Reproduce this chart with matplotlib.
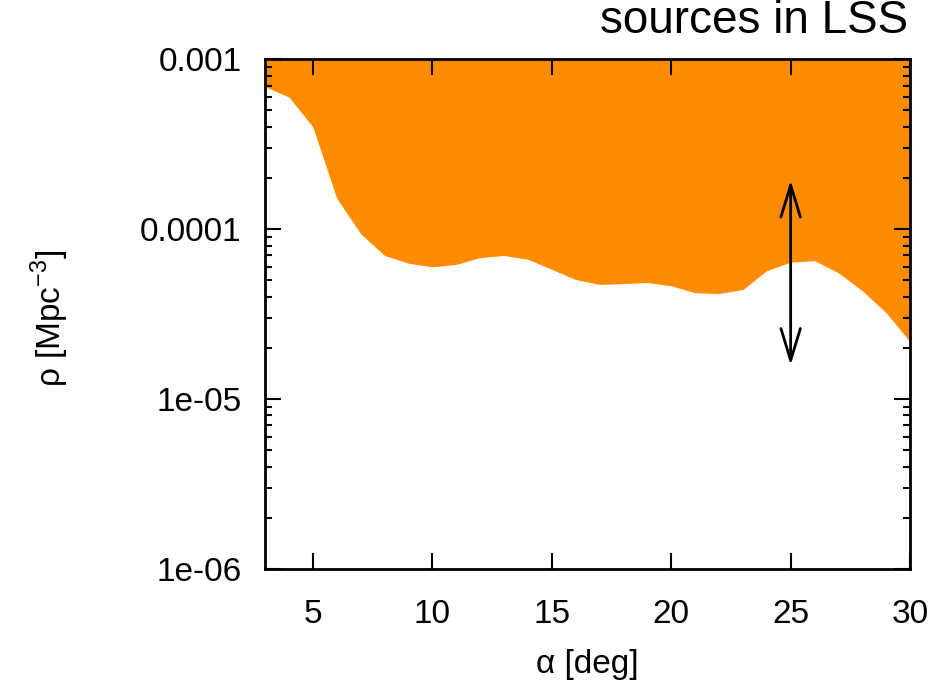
import numpy as np
import matplotlib.pyplot as plt
from matplotlib.ticker import LogLocator, NullFormatter, FixedLocator

plt.rcParams['font.family'] = ['Liberation Sans', 'DejaVu Sans']
plt.rcParams['mathtext.fontset'] = 'custom'
plt.rcParams['mathtext.rm'] = 'Liberation Sans'

# angle alpha [deg] and lower bound of density rho [Mpc^-3]
alpha = [3, 4, 5, 6, 7, 8, 9, 10, 11, 12, 13, 14, 15, 16, 17, 18, 19, 20,
         21, 22, 23, 24, 25, 26, 27, 28, 29, 30]
rho = [6.9e-4, 6.0e-4, 4.0e-4, 1.52e-4, 9.4e-5, 7.0e-5, 6.3e-5, 6.0e-5,
       6.2e-5, 6.8e-5, 7.0e-5, 6.65e-5, 5.8e-5, 5.05e-5, 4.73e-5, 4.78e-5,
       4.85e-5, 4.64e-5, 4.22e-5, 4.18e-5, 4.41e-5, 5.7e-5, 6.4e-5, 6.52e-5,
       5.53e-5, 4.34e-5, 3.22e-5, 2.17e-5]
arrow_x = 25
arrow_lo, arrow_hi = 1.58e-5, 1.94e-4

fig = plt.figure(figsize=(9.5, 6.82), dpi=100)
ax = fig.add_axes([0.279, 0.166, 0.679, 0.747])

ax.fill_between(alpha, rho, 1e-3, color='#ff8c00', lw=0)

ax.annotate('', xy=(arrow_x, arrow_hi), xytext=(arrow_x, arrow_lo),
            arrowprops=dict(arrowstyle='<->,head_length=2.3,head_width=0.7',
                            color='black', lw=2, mutation_scale=10,
                            shrinkA=0, shrinkB=0))

ax.set_yscale('log')
ax.set_xlim(3, 30)
ax.set_ylim(1e-6, 1e-3)
ax.xaxis.set_major_locator(FixedLocator([5, 10, 15, 20, 25, 30]))
ax.yaxis.set_major_locator(FixedLocator([1e-6, 1e-5, 1e-4, 1e-3]))
ax.yaxis.set_minor_locator(LogLocator(base=10, subs=np.arange(2, 10)))
ax.yaxis.set_minor_formatter(NullFormatter())
ax.set_yticklabels(['1e-06', '1e-05', '0.0001', '0.001'])

ax.tick_params(which='both', direction='in', top=True, right=True,
               width=1.5, labelsize=24)
ax.tick_params(axis='y', pad=17)
ax.tick_params(axis='x', pad=22)
ax.tick_params(which='major', length=11.5)
ax.tick_params(which='minor', length=5)
for s in ax.spines.values():
    s.set_linewidth(2)

fig.text(587 / 950, 1 - 665 / 682, 'α [deg]', fontsize=24,
         ha='center', va='center')
fig.text(50 / 950, 1 - 318 / 682, r'ρ [Mpc$^{\mathregular{-3}}$]', fontsize=24,
         ha='center', va='center', rotation=90)
fig.text(0.956, 0.937, 'sources in LSS', fontsize=33, ha='right', va='bottom')

fig.savefig('out.png', dpi=100)
